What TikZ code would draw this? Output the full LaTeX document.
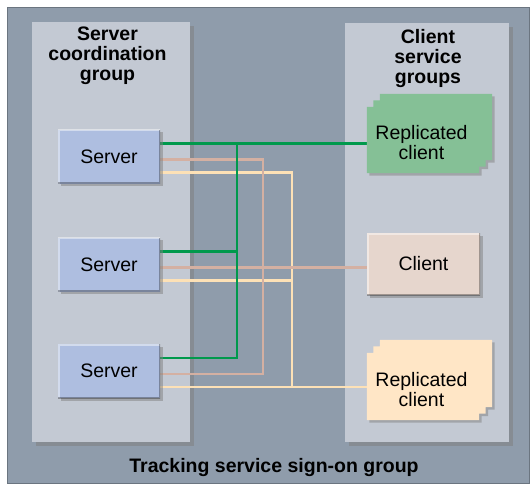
\documentclass[tikz,border=0pt]{standalone}
\usepackage{fontspec}
\setmainfont{Liberation Sans}
\usetikzlibrary{shadows,backgrounds}
\pgfdeclarelayer{wires}
\pgfsetlayers{background,wires,main}
\definecolor{outer}{HTML}{8F9CAB}
\definecolor{lane}{HTML}{C3C9D3}
\definecolor{srvfill}{HTML}{AEBEE0}
\definecolor{grnfill}{HTML}{85C096}
\definecolor{clifill}{HTML}{E6D6CD}
\definecolor{ylwfill}{HTML}{FFE6C6}
\definecolor{grnline}{HTML}{00994C}
\definecolor{pnkline}{HTML}{D4B0A2}
\definecolor{ylwline}{HTML}{FDE1B6}
\tikzset{
  every node/.style={font=\fontsize{19.5}{20}\selectfont, text=black},
  title/.style={font=\fontsize{19.5}{20}\selectfont\bfseries, align=center},
  panel/.style={fill=outer, draw=outer!75!black, line width=0.8pt, inner sep=0pt},
  lanebox/.style={fill=lane, inner sep=0pt,
                  drop shadow={shadow xshift=3.5pt, shadow yshift=-3.5pt, opacity=0.55}},
  % light top-left rim, dark bottom-right rim
  bevel/.style={path picture={
      \draw[white, opacity=0.45, line width=3pt] (path picture bounding box.south west)
        -- (path picture bounding box.north west) -- (path picture bounding box.north east);
      \draw[black, opacity=0.3, line width=3pt] (path picture bounding box.north east)
        -- (path picture bounding box.south east) -- (path picture bounding box.south west);}},
  box/.style={inner sep=0pt, align=center, bevel,
              drop shadow={shadow xshift=2.5pt, shadow yshift=-2.5pt, opacity=0.5}},
  server/.style={box, fill=srvfill, minimum width=102pt, minimum height=54pt},
  client/.style={box, fill=clifill, minimum width=113pt, minimum height=62pt},
  replica/.style={inner sep=0pt, minimum width=125pt, minimum height=79pt},
  notched/.style={drop shadow={shadow xshift=2.5pt, shadow yshift=-2.5pt, opacity=0.5}},
  wire/.style={line width=2.6pt, line cap=rect},
  grn/.style={wire, draw=grnline},
  pnk/.style={wire, draw=pnkline},
  ylw/.style={wire, draw=ylwline},
}

\begin{document}
\begin{tikzpicture}[x=1pt, y=-1pt]
  \useasboundingbox (0,0) rectangle (531,485);

  \begin{pgfonlayer}{background}
    \node[panel, minimum width=522pt, minimum height=476pt] (sign) at (268,245) {};
    \node[lanebox, minimum width=158pt, minimum height=420pt] (coord) at (111,232) {};
    \node[lanebox, minimum width=164pt, minimum height=419pt] (svc) at (427,232.5) {};
  \end{pgfonlayer}

  \node[title] (coordT) at (107.5,56) {Server\\coordination\\group};
  \node[title] (svcT) at (428,58) {Client\\service\\groups};
  \node[title] (signT) at (274,467) {Tracking service sign-on group};

  \node[server] (s1) at (109,156.5) {Server};
  \node[server] (s2) at (109,264.5) {Server};
  \node[server] (s3) at (109,371) {Server};

  % replicated clients: stepped corners top left and bottom right
  \node[replica] (repA) at (429.5,133.5) {};
  \node[replica, minimum height=80pt] (repB) at (429.5,380) {};
  \foreach \r/\c in {repA/grnfill, repB/ylwfill} {
    \path[fill=\c, notched] ([yshift=-13pt]\r.north west) -- ++(6.5,0) -- ++(0,-6.5) -- ++(6.5,0) -- ++(0,-6.5)
      -- (\r.north east) -- ([yshift=13pt]\r.south east) -- ++(-6.5,0) -- ++(0,6.5) -- ++(-6.5,0) -- ++(0,6.5)
      -- (\r.south west) -- cycle;
  }
  \node[align=center] (repAT) at (421.5,143) {Replicated\\client};
  \node[align=center] (repBT) at (421.5,390) {Replicated\\client};

  \node[client] (cli) at (423.5,264) {Client};

  \coordinate (gbus) at (237,0);
  \coordinate (pbus) at (263,0);
  \coordinate (ybus) at (292,0);

  \begin{pgfonlayer}{wires}
    \foreach \s in {s1,s2,s3} {
      \draw[ylw] ([yshift=-16pt]\s.east) -- ([yshift=-16pt]\s.east -| ybus);
    }
    \draw[ylw] ([yshift=-16pt]s1.east -| ybus) -- ([yshift=-16pt]s3.east -| ybus) -- ([yshift=-16pt]s3.east -| repB.west);

    \foreach \s in {s1,s2,s3} {
      \draw[pnk] ([yshift=-3pt]\s.east) -- ([yshift=-3pt]\s.east -| pbus);
    }
    \draw[pnk] ([yshift=-3pt]s1.east -| pbus) -- ([yshift=-3pt]s3.east -| pbus);
    \draw[pnk] ([yshift=-3pt]s2.east -| pbus) -- ([yshift=-3pt]s2.east -| cli.west);

    \foreach \s in {s1,s2,s3} {
      \draw[grn] ([yshift=13pt]\s.east) -- ([yshift=13pt]\s.east -| gbus);
    }
    \draw[grn] ([yshift=13pt]s1.east -| gbus) -- ([yshift=13pt]s3.east -| gbus);
    \draw[grn] ([yshift=13pt]s1.east -| gbus) -- ([yshift=13pt]s1.east -| repA.west);
  \end{pgfonlayer}
\end{tikzpicture}
\end{document}
